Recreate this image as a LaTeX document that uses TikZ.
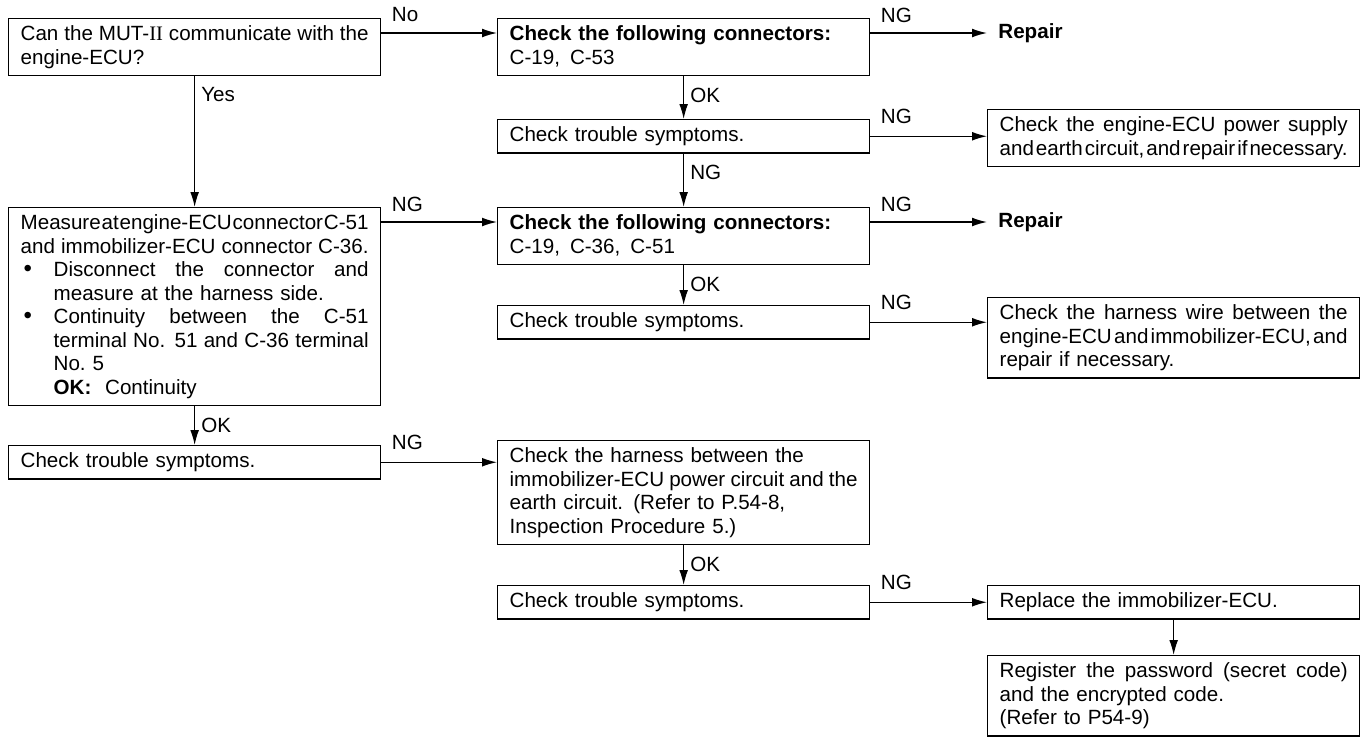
\documentclass[tikz,border=0pt]{standalone}
\usepackage{fontspec}
\setmainfont{Liberation Sans}
\newfontfamily\romfont{Liberation Serif}
\usetikzlibrary{arrows.meta}
\newlength{\boxtw}\setlength{\boxtw}{174pt}
\newlength{\bulw}\setlength{\bulw}{16.5pt}
\newlength{\bultw}\setlength{\bultw}{157.5pt}
\newcommand{\jline}[1]{{\spaceskip=0pt\xspaceskip=0pt\makebox[\boxtw][s]{#1}}}
\newcommand{\jlinei}[1]{{\spaceskip=0pt\xspaceskip=0pt\makebox[\bultw][s]{#1}}}
\newcommand{\bul}{\makebox[\bulw][l]{\hspace{1.5pt}{\fontsize{12}{11.75}\selectfont\textbullet}}}
\newcommand{\lstrut}{\vrule width 0pt height 7.6pt depth 2.2pt}
\tikzset{
  box/.style={draw, line width=0.65pt, anchor=north west, text width=\boxtw,
    inner xsep=6pt, inner ysep=3.4pt, align=left,
    execute at begin node=\lstrut, execute at end node=\lstrut},
  flow/.style={line width=0.65pt, -{Latex[length=7.5pt,width=4.4pt]}},
  lblh/.style={anchor=west, inner sep=0pt, xshift=5pt, yshift=1.5pt},
  lblv/.style={anchor=north west, inner sep=0pt, xshift=3pt, yshift=-5.5pt},
}
\begin{document}
\begin{tikzpicture}[x=0.5pt,y=-0.5pt,font=\fontsize{10.3}{11.75}\selectfont]
            \useasboundingbox (0,0) rectangle (1370,736);
            \draw (8,18) node[box] (A) {\jline{Can the MUT-{\romfont II} communicate with the}\\engine-ECU?};
            \draw (497,18) node[box] (B) {\textbf{Check the following connectors:}\\C-19,\hspace{5pt}C-53};
            \draw (987,33) node[anchor=west,inner xsep=5.5pt] (R1) {\textbf{Repair}};
            \draw (497,119) node[box] (C) {Check trouble symptoms.};
            \draw (987,109) node[box] (D) {\jline{Check the engine-ECU power supply}\\
             \jline{and\hfill earth\hfill circuit,\hfill and\hfill repair\hfill if\hfill necessary.}};
            \draw (8,207) node[box] (M) {\jline{Measure\hfill at\hfill engine-ECU\hfill connector\hfill C-51}\\
             \jline{and immobilizer-ECU connector C-36.}\\
             \bul\jlinei{Disconnect the connector and}\\
             \hspace*{\bulw}measure at the harness side.\\
             \bul\jlinei{Continuity between the C-51}\\
             \hspace*{\bulw}\jlinei{terminal No. 51 and C-36 terminal}\\
             \hspace*{\bulw}No.\ 5\\
             \hspace*{\bulw}\textbf{OK:}\ \ Continuity};
            \draw (497,207) node[box] (F) {\textbf{Check the following connectors:}\\C-19,\hspace{5pt}C-36,\hspace{5pt}C-51};
            \draw (987,222) node[anchor=west,inner xsep=5.5pt] (R2) {\textbf{Repair}};
            \draw (497,305) node[box] (G) {Check trouble symptoms.};
            \draw (987,297) node[box] (H) {\jline{Check the harness wire between the}\\
             \jline{engine-ECU\hfill and\hfill immobilizer-ECU,\hfill and}\\repair if necessary.};
            \draw (8,445) node[box] (I) {Check trouble symptoms.};
            \draw (497,440) node[box] (J) {Check the harness between the\\
             \jline{immobilizer-ECU\hfill power\hfill circuit\hfill and\hfill the}\\
             earth circuit. (Refer to P.54-8,\\Inspection Procedure 5.)};
            \draw (497,585) node[box] (K) {Check trouble symptoms.};
            \draw (987,585) node[box] (L) {Replace the immobilizer-ECU.};
            \draw (987,655) node[box] (N) {\jline{Register the password (secret code)}\\
             and the encrypted code.\\(Refer to P54-9)};
            \draw[flow] ([yshift=-7.5pt]A.north east) -- ([yshift=-7.5pt]B.north west)
             node[lblh] at (A.north east) {No};
            \draw[flow] ([yshift=-7.5pt]B.north east) -- (R1.west)
             node[lblh] at (B.north east) {NG};
            \draw[flow] (B.south) -- (C.north) node[lblv] at (B.south) {OK};
            \draw[flow] (C.east) -- (C.east -| D.west) node[lblh] at (C.north east) {NG};
            \draw[flow] (C.south) -- (F.north) node[lblv] at (C.south) {NG};
            \draw[flow] (A.south) -- (M.north) node[lblv] at (A.south) {Yes};
            \draw[flow] ([yshift=-7.5pt]M.north east) -- ([yshift=-7.5pt]F.north west)
             node[lblh] at (M.north east) {NG};
            \draw[flow] ([yshift=-7.5pt]F.north east) -- (R2.west)
             node[lblh] at (F.north east) {NG};
            \draw[flow] (F.south) -- (G.north) node[lblv] at (F.south) {OK};
            \draw[flow] (G.east) -- (G.east -| H.west) node[lblh] at (G.north east) {NG};
            \draw[flow] (M.south) -- (I.north) node[lblv] at (M.south) {OK};
            \draw[flow] (I.east) -- (I.east -| J.west) node[lblh] at (I.north east) {NG};
            \draw[flow] (J.south) -- (K.north) node[lblv] at (J.south) {OK};
            \draw[flow] (K.east) -- (L.west) node[lblh] at (K.north east) {NG};
            \draw[flow] (L.south) -- (N.north);
            \end{tikzpicture}
\end{document}
